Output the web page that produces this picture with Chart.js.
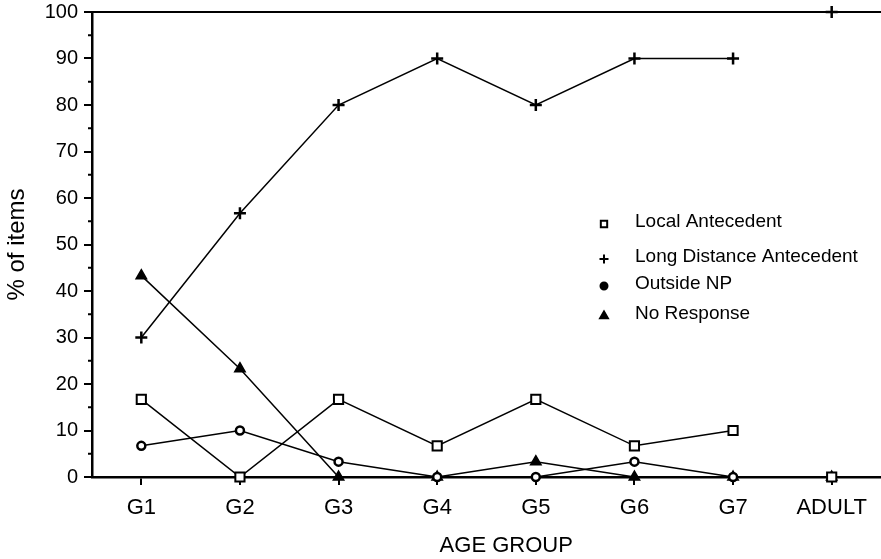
<!DOCTYPE html>
<html>
<head>
<meta charset="utf-8">
<script src="https://cdn.jsdelivr.net/npm/chart.js@4.4.1/dist/chart.umd.min.js"></script>
<style>
  html, body { margin: 0; padding: 0; background: #fff; overflow: hidden; }
</style>
</head>
<body>
<canvas id="myChart" width="881" height="559"></canvas>
<script>
// categorías (eje x)
const grupos = ['G1', 'G2', 'G3', 'G4', 'G5', 'G6', 'G7', 'ADULT'];

// valores de cada serie (% de ítems)
const localAntecedent = [16.7, 0, 16.7, 6.7, 16.7, 6.7, 10, 0];
const longDistance = [30, 56.7, 80, 90, 80, 90, 90, 100];
const outsideNP = [6.7, 10, 3.3, 0, 0, 3.3, 0, 0];
const noResponse = [43.3, 23.3, 0, 0, 3.3, 0, 0, 0];

const nombresSeries = ['Local Antecedent', 'Long Distance Antecedent', 'Outside NP', 'No Response'];
const yTicks = [0, 10, 20, 30, 40, 50, 60, 70, 80, 90, 100];

const fuente = '"Liberation Sans", Arial, Helvetica, sans-serif';

// no se une G7 con ADULT
function ocultarUltimo(ctx) {
    return ctx.p1DataIndex === grupos.length - 1 ? 'rgba(0,0,0,0)' : '#000';
}

function serie(nombre, datos, estilo, radio, relleno, borde) {
    return {
        label: nombre,
        data: datos,
        borderColor: '#000',
        borderWidth: 1.5,
        pointStyle: estilo,
        pointRadius: radio,
        pointBackgroundColor: relleno,
        pointBorderColor: '#000',
        pointBorderWidth: borde,
        tension: 0,
        clip: false,
        segment: { borderColor: ocultarUltimo }
    };
}

const datasets = [
    serie(nombresSeries[0], localAntecedent, 'rect', 6.5, '#fff', 2),
    serie(nombresSeries[1], longDistance, 'cross', 6, '#000', 2.5),
    serie(nombresSeries[2], outsideNP, 'circle', 4, '#fff', 2.5),
    serie(nombresSeries[3], noResponse, 'triangle', 6, '#000', 1.5)
];

// leyenda, marco superior, marcas menores y título del eje x
const extras = {
    id: 'extras',
    afterDraw(chart) {
        const ctx = chart.ctx;
        const a = chart.chartArea;
        const y = chart.scales.y;
        ctx.save();
        ctx.strokeStyle = '#000';
        ctx.lineWidth = 2;
        ctx.beginPath();
        ctx.moveTo(a.left, a.top);
        ctx.lineTo(a.right, a.top);
        ctx.stroke();

        for (let v = 5; v < 100; v += 10) {
            const py = y.getPixelForValue(v);
            ctx.beginPath();
            ctx.moveTo(a.left - 4, py);
            ctx.lineTo(a.left, py);
            ctx.stroke();
        }

        ctx.fillStyle = '#000';
        ctx.font = '22px ' + fuente;
        ctx.textAlign = 'center';
        ctx.textBaseline = 'middle';
        ctx.fillText('AGE GROUP', a.left + a.width * 0.525, chart.height - 13);

        const filas = [210, 245, 272, 302];
        ctx.font = '19px ' + fuente;
        ctx.textAlign = 'left';
        chart.data.datasets.forEach((ds, i) => {
            const py = a.top + filas[i];
            const opts = {
                pointStyle: ds.pointStyle,
                radius: ds.pointStyle === 'circle' ? 3.5 : 4.5,
                borderWidth: 2,
                rotation: 0
            };
            ctx.fillStyle = ds.pointStyle === 'rect' ? '#fff' : '#000';
            ctx.strokeStyle = '#000';
            ctx.lineWidth = 2;
            Chart.helpers.drawPoint(ctx, opts, a.left + 512, py + 2);
            ctx.fillStyle = '#000';
            ctx.fillText(ds.label, a.left + 543, py);
        });
        ctx.restore();
    }
};

const ctx = document.getElementById('myChart').getContext('2d');
new Chart(ctx, {
    type: 'line',
    data: { labels: grupos, datasets: datasets },
    options: {
        responsive: false,
        animation: false,
        layout: { autoPadding: false, padding: { top: 12, right: 0, bottom: 0, left: 0 } },
        plugins: {
            legend: { display: false },
            tooltip: { enabled: false }
        },
        scales: {
            x: {
                offset: true,
                afterFit: s => { s.height = 82; },
                grid: {
                    display: true,
                    drawOnChartArea: false,
                    drawTicks: true,
                    tickLength: 8,
                    lineWidth: 2,
                    color: '#000',
                    offset: false
                },
                border: { display: true, color: '#000', width: 2.5 },
                ticks: {
                    color: '#000',
                    padding: 10,
                    maxRotation: 0,
                    font: { family: fuente, size: 22 }
                }
            },
            y: {
                min: 0,
                max: 100,
                afterFit: s => {
                    s.width = 92;
                    s.paddingTop = 0;
                    s.paddingBottom = 0;
                },
                afterBuildTicks: s => { s.ticks = yTicks.map(v => ({ value: v })); },
                grid: {
                    display: true,
                    drawOnChartArea: false,
                    drawTicks: true,
                    tickLength: 8,
                    lineWidth: 2,
                    color: '#000'
                },
                border: { display: true, color: '#000', width: 2.5 },
                title: {
                    display: true,
                    text: '% of items',
                    color: '#000',
                    padding: { top: 3, bottom: 0 },
                    font: { family: fuente, size: 24 }
                },
                ticks: {
                    color: '#000',
                    padding: 6,
                    font: { family: fuente, size: 20 }
                }
            }
        }
    },
    plugins: [extras]
});
</script>
</body>
</html>
